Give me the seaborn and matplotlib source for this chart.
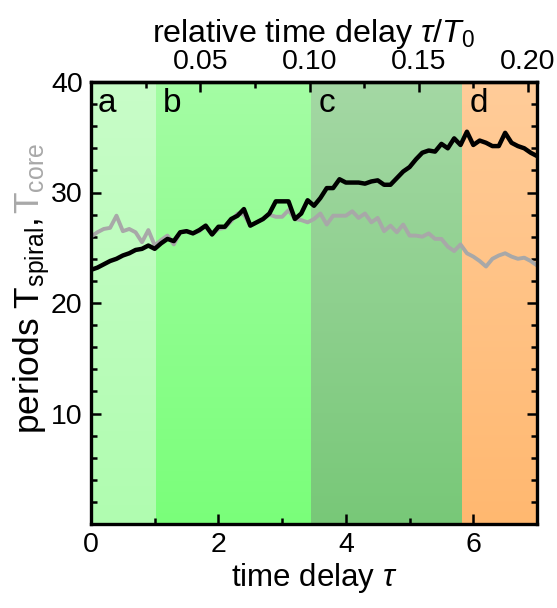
import numpy as np
import pandas as pd
import matplotlib
matplotlib.use("Agg")
import matplotlib.pyplot as plt
import seaborn as sns
from matplotlib.colors import to_rgb
from matplotlib.ticker import MultipleLocator, FixedLocator, FixedFormatter

# ---------------- data ----------------
tau = [round(0.1 * i, 1) for i in range(71)]
t_spiral = [23.0, 23.2, 23.5, 23.8, 24.0, 24.3, 24.5, 24.8, 24.9, 25.2,
            24.9, 25.4, 25.8, 25.6, 26.4, 26.5, 26.3, 26.6, 27.0, 26.2,
            26.9, 26.9, 27.6, 27.9, 28.5, 27.0, 27.3, 27.6, 28.1, 29.2,
            29.2, 29.2, 27.6, 28.1, 29.3, 28.8, 29.5, 30.4, 30.4, 31.2,
            30.9, 30.9, 30.9, 30.8, 31.0, 31.1, 30.7, 30.7, 31.3, 31.9,
            32.3, 33.0, 33.6, 33.8, 33.7, 34.4, 34.0, 34.9, 34.3, 35.5,
            34.3, 34.7, 34.5, 34.2, 34.2, 35.4, 34.5, 34.2, 34.0, 33.6,
            33.3]
t_core = [26.0, 26.4, 26.7, 26.8, 27.9, 26.5, 26.7, 26.4, 25.5, 26.6,
          25.2, 25.7, 26.1, 25.3, 26.4, 26.5, 26.3, 26.5, 27.0, 26.2,
          26.7, 26.8, 27.4, 28.1, 28.0, 27.0, 27.3, 27.6, 28.0, 27.8,
          27.8, 28.4, 27.6, 27.5, 27.3, 27.6, 28.1, 27.1, 27.9, 27.9,
          27.9, 28.3, 27.7, 28.1, 27.3, 27.7, 26.5, 27.0, 26.4, 27.1,
          26.1, 26.1, 26.0, 26.3, 25.8, 25.8, 25.1, 24.7, 25.3, 24.5,
          24.2, 23.8, 23.3, 24.0, 24.3, 24.5, 24.2, 24.0, 24.1, 23.8,
          23.4]

region_labels = ["a", "b", "c", "d"]
region_bounds = [0.0, 1.02, 3.46, 5.83, 7.0]
region_top = ["#c8fcc8", "#a4fca4", "#a4d8a4", "#ffcc99"]
region_bottom = ["#b0fdb0", "#7aff7a", "#78c878", "#ffb870"]

T0 = 34.3
top_ticks = [0.05, 0.10, 0.15, 0.20]
top_ticklabels = ["0.05", "0.10", "0.15", "0.20"]

# ---------------- style ----------------
sns.set_style("ticks", {"axes.edgecolor": "black", "text.color": "black",
                        "axes.labelcolor": "black", "xtick.color": "black",
                        "ytick.color": "black"})
plt.rcParams["font.family"] = ["Liberation Sans", "DejaVu Sans"]
plt.rcParams["mathtext.fontset"] = "custom"
plt.rcParams["mathtext.rm"] = "Liberation Sans"
plt.rcParams["mathtext.it"] = "Liberation Sans:italic"
plt.rcParams["mathtext.sf"] = "Liberation Sans"

FS_TICK = 20.5
FS_LAB = 22.5
fig = plt.figure(figsize=(5.57, 6.08), dpi=100)
ax = fig.add_axes([91 / 557, 1 - 524 / 608, (537 - 91) / 557, (524 - 82) / 608])

ymin, ymax = 0, 40
for i in range(4):
    c_top = np.array(to_rgb(region_top[i]))
    c_bot = np.array(to_rgb(region_bottom[i]))
    grad = np.linspace(0, 1, 256)[:, None]
    img = c_top[None, None, :] * (1 - grad[..., None]) + c_bot[None, None, :] * grad[..., None]
    img = np.repeat(img, 2, axis=1)
    ax.imshow(img, extent=[region_bounds[i], region_bounds[i + 1], ymin, ymax],
              aspect="auto", origin="upper", zorder=0, interpolation="bilinear")
    ax.text(region_bounds[i] + 0.11, 39.5, region_labels[i], fontsize=24,
            ha="left", va="top", zorder=3, color="black")

df = pd.DataFrame({"tau": tau, "spiral": t_spiral, "core": t_core})
sns.lineplot(data=df, x="tau", y="core", ax=ax, color="#a8a8a8", lw=2.8, zorder=2)
sns.lineplot(data=df, x="tau", y="spiral", ax=ax, color="black", lw=3.2, zorder=2.5)

ax.set_xlim(0, 7.0)
ax.set_ylim(ymin, ymax)
ax.xaxis.set_major_locator(FixedLocator([0, 2, 4, 6]))
ax.xaxis.set_minor_locator(FixedLocator([1, 3, 5, 7]))
ax.yaxis.set_major_locator(FixedLocator([10, 20, 30, 40]))
ax.yaxis.set_minor_locator(MultipleLocator(2))
ax.tick_params(which="both", direction="in", width=1.8, labelsize=FS_TICK,
               right=True, top=False, pad=6, colors="black")
ax.tick_params(which="major", length=7)
ax.tick_params(which="minor", length=4)
for s in ax.spines.values():
    s.set_linewidth(2.4)
    s.set_color("black")
    s.set_visible(True)
ax.set_xlabel(r"time delay $\tau$", fontsize=FS_LAB, labelpad=2, color="black")
ax.set_ylabel("")

sec = ax.secondary_xaxis("top", functions=(lambda x: x / T0, lambda x: x * T0))
sec.xaxis.set_major_locator(FixedLocator(top_ticks))
sec.xaxis.set_major_formatter(FixedFormatter(top_ticklabels))
sec.xaxis.set_minor_locator(MultipleLocator(0.025))
sec.tick_params(which="both", direction="in", width=1.8, labelsize=FS_TICK, pad=5,
                colors="black")
sec.tick_params(which="major", length=7)
sec.tick_params(which="minor", length=4)
sec.spines["top"].set_linewidth(2.4)
sec.spines["top"].set_color("black")
sec.set_xlabel(r"relative time delay $\tau/T_{\mathrm{0}}$", fontsize=23.2,
               labelpad=5, color="black")

# y label with two colors
x0, y0 = 39 / 557, 174 / 608
t1 = fig.text(x0, y0, r"periods $\mathregular{T_{spiral}}$, ", fontsize=25.5,
              rotation=90, rotation_mode="anchor", ha="left", va="baseline",
              color="black")
fig.canvas.draw()
bb = t1.get_window_extent()
t2 = fig.text(x0, bb.y1 / fig.bbox.height, r"$\mathregular{T_{core}}$", fontsize=25.5,
              rotation=90, rotation_mode="anchor", ha="left", va="baseline",
              color="#a8a8a8")

fig.savefig("out.png", dpi=100)
